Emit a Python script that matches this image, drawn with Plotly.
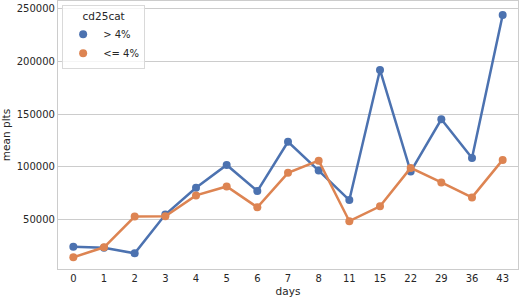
import plotly.graph_objects as go

days = ["0", "1", "2", "3", "4", "5", "6", "7", "8", "11", "15", "22", "29", "36", "43"]
high_cd25 = [24100, 23200, 17900, 54700, 80100, 101800, 77000, 123800, 96500, 68500, 192000, 95500, 145200, 108400, 244200]
low_cd25 = [14100, 23600, 52800, 53000, 72900, 81400, 61600, 94300, 105900, 48400, 62500, 99000, 85200, 71000, 106600]
series_names = ["> 4%", "<= 4%"]
colors = ["#4C72B0", "#DD8452"]
y_ticks = [50000, 100000, 150000, 200000, 250000]

fig = go.Figure()
for name, vals, c in zip(series_names, [high_cd25, low_cd25], colors):
    fig.add_trace(go.Scatter(x=days, y=vals, mode="lines+markers", name=name,
                             line=dict(color=c, width=2.5),
                             marker=dict(color=c, size=8), showlegend=False))
for name, c in zip(series_names, colors):
    fig.add_trace(go.Scatter(x=[None], y=[None], mode="markers", name=name,
                             marker=dict(color=c, size=8)))

font_color = "#262626"
fig.update_layout(
    width=520, height=300,
    margin=dict(l=58, r=2, t=1, b=31, autoexpand=False),
    paper_bgcolor="white", plot_bgcolor="white",
    font=dict(family="DejaVu Sans", size=10, color=font_color),
    legend=dict(x=0.009, y=0.985, xanchor="left", yanchor="top",
                bgcolor="rgba(255,255,255,0.8)", bordercolor="#d9d9d9", borderwidth=1,
                title=dict(text="cd25cat", side="top center", font=dict(size=10.5)),
                font=dict(size=10), itemwidth=30, tracegroupgap=0),
    xaxis=dict(type="category", range=[-0.5, 14.5], showgrid=False, automargin=False,
               showline=True, linecolor="#cccccc", linewidth=1.2, mirror=True,
               ticks="", title=dict(text="days", standoff=4, font=dict(size=10.5)),
               tickfont=dict(size=10)),
    yaxis=dict(range=[3000, 257500], tickvals=y_ticks, ticktext=[str(v) for v in y_ticks],
               showgrid=True, gridcolor="#cccccc", gridwidth=1, automargin=False,
               showline=True, linecolor="#cccccc", linewidth=1.2, mirror=True,
               zeroline=False, ticks="", title=dict(text="mean plts", standoff=6, font=dict(size=10.5)),
               tickfont=dict(size=10)),
)
fig.write_html("out.html", config={"displayModeBar": False},
               post_script="document.body.style.margin='0';")
